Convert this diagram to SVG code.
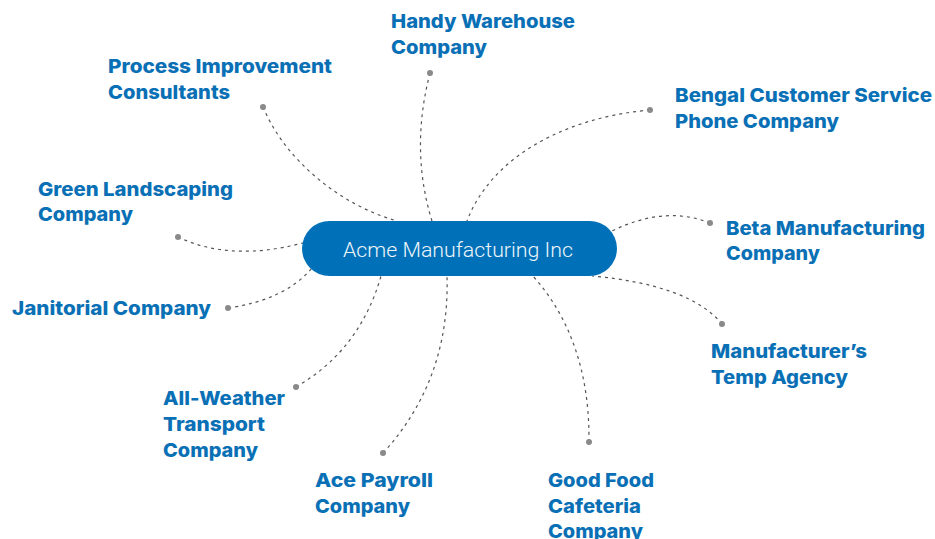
<svg xmlns="http://www.w3.org/2000/svg" width="935" height="539" viewBox="0 0 935 539">
<style>
.lbl{font-family:Inter,Roboto,"Liberation Sans",sans-serif;font-weight:800;font-size:19px;fill:#0a70b6}
.con{fill:none;stroke:#555;stroke-width:1.2;stroke-dasharray:3 4}
.dot{fill:#8a8a8a}
.hub{fill:#0071b8}
.hubt{font-family:Roboto,"Liberation Sans",sans-serif;font-weight:300;font-size:21px;fill:#eef4fa}
</style>
<rect width="935" height="539" fill="#fff"/>
<g id="connectors">
<path class="con" d="M430,73 Q410,150 432,221"/>
<path class="con" d="M263,107 C285,160 340,205 397,221"/>
<path class="con" d="M178,237 Q230,262 303,243"/>
<path class="con" d="M650,110 C560,118 490,160 467,221"/>
<path class="con" d="M710,223 Q665,205 612,231"/>
<path class="con" d="M228,308 Q285,300 312,268"/>
<path class="con" d="M296,387 Q360,350 381,276"/>
<path class="con" d="M383,453 Q450,380 447,276"/>
<path class="con" d="M722,324 Q690,285 592,276"/>
<path class="con" d="M589,442 Q590,340 533,276"/>
</g>
<g id="hub">
<rect class="hub" x="302" y="221" width="315" height="55" rx="27.5"/>
<text class="hubt" x="458" y="257" text-anchor="middle" textLength="230" lengthAdjust="spacingAndGlyphs">Acme Manufacturing Inc</text>
</g>
<g id="handy">
<circle class="dot" cx="430" cy="73" r="3"/>
<text class="lbl" x="391" y="28" textLength="184" lengthAdjust="spacingAndGlyphs">Handy Warehouse</text>
<text class="lbl" x="391" y="54" textLength="96" lengthAdjust="spacingAndGlyphs">Company</text>
</g>
<g id="process">
<circle class="dot" cx="263" cy="107" r="3"/>
<text class="lbl" x="108" y="73" textLength="224" lengthAdjust="spacingAndGlyphs">Process Improvement</text>
<text class="lbl" x="108" y="99" textLength="122" lengthAdjust="spacingAndGlyphs">Consultants</text>
</g>
<g id="green">
<circle class="dot" cx="178" cy="237" r="3"/>
<text class="lbl" x="38" y="196" textLength="195" lengthAdjust="spacingAndGlyphs">Green Landscaping</text>
<text class="lbl" x="38" y="221" textLength="95" lengthAdjust="spacingAndGlyphs">Company</text>
</g>
<g id="bengal">
<circle class="dot" cx="650" cy="110" r="3"/>
<text class="lbl" x="675" y="102" textLength="257" lengthAdjust="spacingAndGlyphs">Bengal Customer Service</text>
<text class="lbl" x="675" y="128" textLength="164" lengthAdjust="spacingAndGlyphs">Phone Company</text>
</g>
<g id="beta">
<circle class="dot" cx="710" cy="223" r="3"/>
<text class="lbl" x="726" y="235" textLength="199" lengthAdjust="spacingAndGlyphs">Beta Manufacturing</text>
<text class="lbl" x="726" y="260" textLength="94" lengthAdjust="spacingAndGlyphs">Company</text>
</g>
<g id="janitorial">
<circle class="dot" cx="228" cy="308" r="3"/>
<text class="lbl" x="12" y="315" textLength="199" lengthAdjust="spacingAndGlyphs">Janitorial Company</text>
</g>
<g id="allweather">
<circle class="dot" cx="296" cy="387" r="3"/>
<text class="lbl" x="163" y="405" textLength="122" lengthAdjust="spacingAndGlyphs">All-Weather</text>
<text class="lbl" x="163" y="431" textLength="102" lengthAdjust="spacingAndGlyphs">Transport</text>
<text class="lbl" x="163" y="457" textLength="95" lengthAdjust="spacingAndGlyphs">Company</text>
</g>
<g id="ace">
<circle class="dot" cx="383" cy="453" r="3"/>
<text class="lbl" x="315" y="487" textLength="118" lengthAdjust="spacingAndGlyphs">Ace Payroll</text>
<text class="lbl" x="315" y="513" textLength="95" lengthAdjust="spacingAndGlyphs">Company</text>
</g>
<g id="temp">
<circle class="dot" cx="722" cy="324" r="3"/>
<text class="lbl" x="711" y="358" textLength="156" lengthAdjust="spacingAndGlyphs">Manufacturer’s</text>
<text class="lbl" x="711" y="384" textLength="137" lengthAdjust="spacingAndGlyphs">Temp Agency</text>
</g>
<g id="goodfood">
<circle class="dot" cx="589" cy="442" r="3"/>
<text class="lbl" x="548" y="487" textLength="106" lengthAdjust="spacingAndGlyphs">Good Food</text>
<text class="lbl" x="548" y="513" textLength="93" lengthAdjust="spacingAndGlyphs">Cafeteria</text>
<text class="lbl" x="548" y="538" textLength="95" lengthAdjust="spacingAndGlyphs">Company</text>
</g>
</svg>
